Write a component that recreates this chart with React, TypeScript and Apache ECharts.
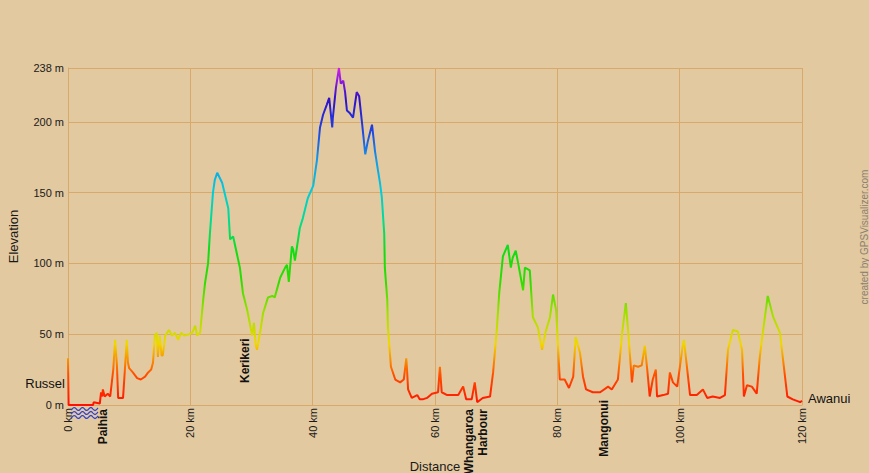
import React, { useEffect, useRef } from "react";
import * as echarts from "echarts";

const distanceKm = [
  0, 0.1, 4.1, 4.2, 5.2, 5.4, 5.6, 5.7, 6.0, 6.5, 6.9, 7.4, 7.7, 8.0, 8.2, 9.0, 9.3, 9.6, 9.8, 10.0,
  10.6, 11.3, 11.9, 12.6, 13.1, 13.6, 13.9, 14.2, 14.5, 14.7, 15.0, 15.3, 15.5, 15.9, 16.5, 17.0, 17.5, 18.0, 18.5, 19.0,
  19.8, 20.3, 20.8, 21.1, 21.6, 22.1, 22.4, 22.9, 23.2, 23.7, 24.0, 24.4, 25.2, 25.7, 26.2, 26.5, 27.0, 27.6, 28.1, 28.6,
  29.3, 29.8, 30.1, 30.4, 30.7, 30.9, 31.4, 31.9, 32.7, 33.4, 33.8, 34.7, 35.5, 35.8, 36.1, 36.6, 36.8, 37.1, 37.9, 38.4,
  39.2, 40.1, 40.7, 41.2, 41.7, 42.3, 42.7, 43.2, 43.3, 43.8, 44.3, 44.6, 45.0, 45.3, 45.6, 46.1, 46.6, 47.2, 47.6, 48.1,
  48.6, 49.0, 49.7, 50.2, 50.7, 51.0, 51.3, 51.7, 51.8, 52.2, 52.3, 52.8, 53.5, 54.3, 54.9, 55.3, 55.4, 55.6, 56.2, 57.1,
  57.5, 58.0, 58.7, 59.5, 60.5, 60.8, 61.1, 62.0, 63.8, 64.6, 65.1, 66.0, 66.5, 66.9, 67.8, 69.0, 69.5, 70.1, 70.5, 71.1,
  71.9, 72.4, 72.7, 73.2, 73.6, 74.4, 74.7, 75.5, 76.0, 76.8, 77.5, 78.1, 78.8, 79.3, 79.8, 80.4, 81.2, 81.9, 82.6, 83.0,
  83.7, 84.2, 84.7, 85.8, 87.0, 88.3, 88.9, 89.9, 90.6, 91.2, 91.6, 92.2, 92.5, 93.2, 93.8, 94.3, 94.7, 95.1, 95.6, 96.1,
  96.3, 97.3, 98.1, 98.4, 98.9, 99.6, 100.5, 100.7, 101.7, 102.8, 103.8, 104.5, 105.4, 106.6, 107.4, 107.9, 108.7, 109.5, 110.2, 110.5,
  111.0, 111.8, 112.6, 113.1, 113.5, 114.4, 115.3, 116.4, 116.9, 117.6, 118.5, 119.7, 120,
];
const elevationM = [
  33, 0, 0, 2, 1, 9, 6, 11, 6, 8, 6, 25, 46, 28, 5, 5, 25, 46, 30, 26,
  23, 19, 18, 20, 23, 25, 30, 49, 51, 34, 49, 35, 35, 49, 53, 49, 51, 46, 51, 49,
  50, 51, 56, 49, 51, 74, 86, 100, 121, 150, 159, 164, 157, 148, 139, 117, 119, 107, 97, 79,
  67, 56, 49, 58, 42, 39, 51, 65, 76, 77, 76, 90, 97, 99, 87, 112, 110, 102, 125, 132,
  146, 155, 173, 196, 205, 212, 217, 196, 203, 224, 238, 227, 229, 221, 208, 206, 203, 221, 218, 198,
  177, 186, 198, 179, 165, 157, 147, 121, 97, 74, 55, 27, 18, 16, 18, 33, 27, 11, 5, 7,
  4, 4, 5, 8, 9, 27, 9, 7, 7, 13, 4, 4, 16, 2, 5, 6, 23, 53, 79, 105,
  113, 97, 104, 109, 100, 81, 97, 95, 62, 55, 39, 52, 62, 78, 67, 18, 18, 12, 20, 48,
  37, 20, 11, 9, 9, 13, 11, 18, 51, 72, 51, 16, 28, 27, 28, 42, 25, 6, 18, 25,
  6, 7, 8, 23, 16, 13, 42, 46, 7, 7, 11, 5, 6, 5, 7, 39, 53, 52, 39, 6,
  14, 13, 8, 34, 48, 77, 62, 51, 32, 6, 4, 2, 3,
];

// Axis ranges and tick settings
const xMin = 0;
const xMax = 120;
const xInterval = 20;
const yMin = 0;
const yMax = 238;
const yInterval = 50;
const xUnit = "km";
const yUnit = "m";

// Place names along the route
const placeNames = ["Paihia", "Kerikeri", "Whangaroa\nHarbour", "Mangonui"];
const placeKm = [5.7, 28.9, 66.7, 87.6];
const placeSide = ["below", "above", "below", "below"];
const startName = "Russel";
const endName = "Awanui";

const FONT = "'Liberation Sans', Arial, sans-serif";
const GRID_COLOR = "#d9a96a";

export default function App() {
  const ref = useRef<HTMLDivElement>(null);

  useEffect(() => {
    document.body.style.margin = "0";
    const chart = echarts.init(ref.current!, null, { renderer: "svg" });
    const data = distanceKm.map((d, i) => [d, elevationM[i]]);

    chart.setOption({
      animation: false,
      backgroundColor: "#e3c9a0",
      grid: { left: 68, right: 67, top: 68, bottom: 68 },
      xAxis: {
        type: "value",
        min: xMin,
        max: xMax,
        interval: xInterval,
        axisLine: { show: true, lineStyle: { color: GRID_COLOR, width: 1 } },
        axisTick: { show: false },
        splitLine: { show: true, lineStyle: { color: GRID_COLOR, width: 1 } },
        axisLabel: {
          rotate: 90,
          margin: 3,
          fontSize: 11,
          fontFamily: FONT,
          color: "#1a1a1a",
          formatter: (v: number) => `${v} ${xUnit}`,
        },
      },
      yAxis: {
        type: "value",
        min: yMin,
        max: yMax,
        interval: yInterval,
        axisLine: { show: true, lineStyle: { color: GRID_COLOR, width: 1 } },
        axisTick: { show: false },
        splitLine: { show: true, lineStyle: { color: GRID_COLOR, width: 1 } },
        axisLabel: {
          margin: 4,
          fontSize: 11,
          fontFamily: FONT,
          color: "#1a1a1a",
          formatter: (v: number) => `${v} ${yUnit}`,
        },
      },
      visualMap: {
        show: false,
        type: "continuous",
        dimension: 1,
        seriesIndex: 0,
        min: yMin,
        max: yMax,
        inRange: {
          color: [
            "#ff1100", "#ff5000", "#f0d800", "#a0e000", "#30dd00", "#10dd10",
            "#00dd90", "#00ccdd", "#1499e8", "#2040e0", "#3010c8", "#d020e8",
          ],
        },
      },
      series: [
        {
          type: "line",
          data,
          symbol: "none",
          lineStyle: { width: 2 },
          z: 3,
        },
      ],
    });

    const origin = chart.convertToPixel({ gridIndex: 0 }, [xMin, yMin]) as number[];
    const endPt = chart.convertToPixel({ gridIndex: 0 }, [xMax, yMin]) as number[];
    const axisY = origin[1];

    const graphics: any[] = [];

    placeNames.forEach((name, i) => {
      const p = chart.convertToPixel({ gridIndex: 0 }, [placeKm[i], yMin]) as number[];
      const below = placeSide[i] === "below";
      graphics.push({
        type: "text",
        x: p[0],
        y: below ? axisY + (name === "Mangonui" ? -5 : 4) : axisY - 22,
        rotation: Math.PI / 2,
        style: {
          text: name,
          font: `bold 12px ${FONT}`,
          fill: "#111",
          align: below ? "right" : "left",
          verticalAlign: "middle",
          lineHeight: 14,
        },
        z: 10,
      });
    });

    graphics.push({
      type: "text",
      x: origin[0] - 3,
      y: axisY - 22,
      style: { text: startName, font: `13px ${FONT}`, fill: "#111", align: "right", verticalAlign: "middle" },
      z: 10,
    });
    graphics.push({
      type: "text",
      x: endPt[0] + 6,
      y: axisY - 7,
      style: { text: endName, font: `13px ${FONT}`, fill: "#111", align: "left", verticalAlign: "middle" },
      z: 10,
    });

    // axis titles
    graphics.push({
      type: "text",
      x: 13,
      y: (68 + axisY) / 2,
      rotation: Math.PI / 2,
      style: { text: "Elevation", font: `13px ${FONT}`, fill: "#1a1a1a", align: "center", verticalAlign: "middle" },
    });
    graphics.push({
      type: "text",
      x: (origin[0] + endPt[0]) / 2,
      y: 466,
      style: { text: "Distance", font: `13px ${FONT}`, fill: "#1a1a1a", align: "center", verticalAlign: "middle" },
    });
    graphics.push({
      type: "text",
      x: 864,
      y: 237,
      rotation: Math.PI / 2,
      style: { text: "created by GPSVisualizer.com", font: `10px ${FONT}`, fill: "#8a8070", align: "center", verticalAlign: "middle" },
    });

    // water symbol below the start
    for (let r = 0; r < 3; r++) {
      const pts: number[][] = [];
      for (let x = origin[0] + 3; x <= origin[0] + 30; x += 1) {
        pts.push([x, axisY + 4 + r * 4 + 1.5 * Math.sin(((x - origin[0]) / 8.3) * Math.PI * 2)]);
      }
      graphics.push({
        type: "polyline",
        shape: { points: pts },
        style: { stroke: "#2a3fd8", lineWidth: 1.2, fill: "none" },
        z: 10,
      });
    }

    chart.setOption({ graphic: graphics });

    return () => chart.dispose();
  }, []);

  return <div ref={ref} style={{ width: 869, height: 473 }} />;
}
